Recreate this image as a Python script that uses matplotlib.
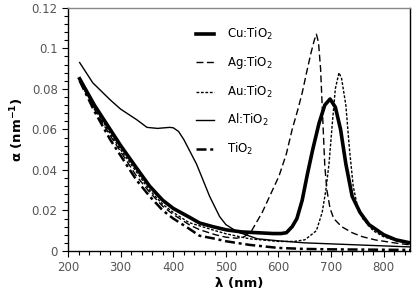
import matplotlib
matplotlib.use("Agg")
import matplotlib.pyplot as plt
from matplotlib.ticker import MultipleLocator

# ---- data ----
cu_lam = [222, 250, 280, 300, 330, 355, 380, 400, 431, 450, 475, 501, 530, 560, 590, 605,
          615, 626, 635, 645, 655, 665, 677, 688, 698, 708, 718, 728, 740, 755, 772, 800, 823, 850]
cu_a = [0.085, 0.072, 0.060, 0.052, 0.041, 0.032, 0.025, 0.021, 0.0166, 0.0138, 0.012, 0.0104,
        0.0094, 0.009, 0.0086, 0.0086, 0.009, 0.012, 0.016, 0.025, 0.038, 0.050, 0.063, 0.072,
        0.075, 0.071, 0.060, 0.043, 0.027, 0.019, 0.013, 0.008, 0.0055, 0.004]

ag_lam = [222, 250, 280, 300, 330, 355, 380, 400, 430, 450, 480, 500, 520, 535, 549, 569, 585,
          601, 615, 626, 637, 645, 655, 662, 668, 672, 676, 680, 684, 688, 692, 698, 705, 720,
          740, 760, 785, 820, 850]
ag_a = [0.084, 0.070, 0.057, 0.049, 0.037, 0.029, 0.022, 0.018, 0.013, 0.0105, 0.008, 0.0068,
        0.0063, 0.007, 0.010, 0.019, 0.028, 0.037, 0.048, 0.060, 0.070, 0.078, 0.090, 0.098,
        0.104, 0.107, 0.103, 0.090, 0.066, 0.042, 0.030, 0.021, 0.016, 0.012, 0.009, 0.007,
        0.0054, 0.004, 0.003]

au_lam = [222, 250, 280, 300, 330, 355, 380, 400, 430, 450, 480, 500, 545, 600, 630, 650, 660,
          672, 683, 690, 696, 702, 708, 715, 720, 728, 735, 742, 750, 760, 780, 800, 825, 850]
au_a = [0.084, 0.071, 0.058, 0.050, 0.039, 0.030, 0.023, 0.019, 0.014, 0.0124, 0.010, 0.0085,
        0.006, 0.0047, 0.0047, 0.0055, 0.0075, 0.010, 0.019, 0.030, 0.043, 0.062, 0.080, 0.088,
        0.085, 0.072, 0.050, 0.032, 0.022, 0.016, 0.010, 0.007, 0.005, 0.004]

al_lam = [222, 247, 280, 300, 331, 350, 370, 393, 400, 410, 420, 430, 444, 455, 469, 488, 500,
          522, 560, 600, 650, 750, 850]
al_a = [0.093, 0.083, 0.0746, 0.070, 0.0647, 0.061, 0.0605, 0.061, 0.0608, 0.059, 0.055, 0.050,
        0.043, 0.036, 0.027, 0.017, 0.013, 0.0094, 0.006, 0.005, 0.004, 0.003, 0.002]

ti_lam = [222, 250, 280, 300, 330, 355, 380, 400, 430, 450, 480, 500, 545, 600, 650, 700, 850]
ti_a = [0.084, 0.069, 0.055, 0.047, 0.035, 0.027, 0.020, 0.016, 0.011, 0.0075, 0.006, 0.0048,
        0.003, 0.0015, 0.001, 0.0008, 0.0005]

labels = ["Cu:TiO$_2$", "Ag:TiO$_2$", "Au:TiO$_2$", "Al:TiO$_2$", "TiO$_2$"]

fig = plt.figure(figsize=(4.15, 3.02), dpi=100)
ax = fig.add_axes([0.164, 0.169, 0.824, 0.805])

ax.plot(cu_lam, cu_a, color="black", lw=2.6, solid_joinstyle="round", label=labels[0])
ax.plot(ag_lam, ag_a, color="black", lw=1.0, dashes=(5, 2.5), label=labels[1])
ax.plot(au_lam, au_a, color="black", lw=1.0, dashes=(2, 1.2), label=labels[2])
ax.plot(al_lam, al_a, color="black", lw=1.0, label=labels[3])
ax.plot(ti_lam, ti_a, color="black", lw=1.8, dashes=(4, 1.5, 1.2, 1.5), label=labels[4])

ax.set_xlim(200, 850)
ax.set_ylim(0, 0.12)
ax.xaxis.set_major_locator(MultipleLocator(100))
ax.xaxis.set_minor_locator(MultipleLocator(20))
ax.yaxis.set_major_locator(MultipleLocator(0.02))
ax.yaxis.set_minor_locator(MultipleLocator(0.004))
ax.set_yticks([0, 0.02, 0.04, 0.06, 0.08, 0.1, 0.12])
ax.set_yticklabels(["0", "0.02", "0.04", "0.06", "0.08", "0.1", "0.12"])

ax.tick_params(which="both", direction="out", color="black", labelcolor="#555555",
               labelsize=8.5, top=False, right=False)
ax.tick_params(which="major", length=4, width=0.8)
ax.tick_params(which="minor", length=3, width=0.8)
ax.spines["top"].set_color("#888888")
for s in ax.spines.values():
    s.set_linewidth(1.0)

ax.set_xlabel("λ (nm)", fontsize=9.5, fontweight="bold", labelpad=2)
ax.set_ylabel("α (nm$^{\\mathbf{-1}}$)", fontsize=9.5, fontweight="bold", labelpad=4)

ax.legend(loc="upper left", bbox_to_anchor=(0.36, 0.945), frameon=False, fontsize=8.5,
          handlelength=1.5, handletextpad=1.1, labelspacing=1.05, borderaxespad=0)

fig.savefig("out.png", dpi=100)
